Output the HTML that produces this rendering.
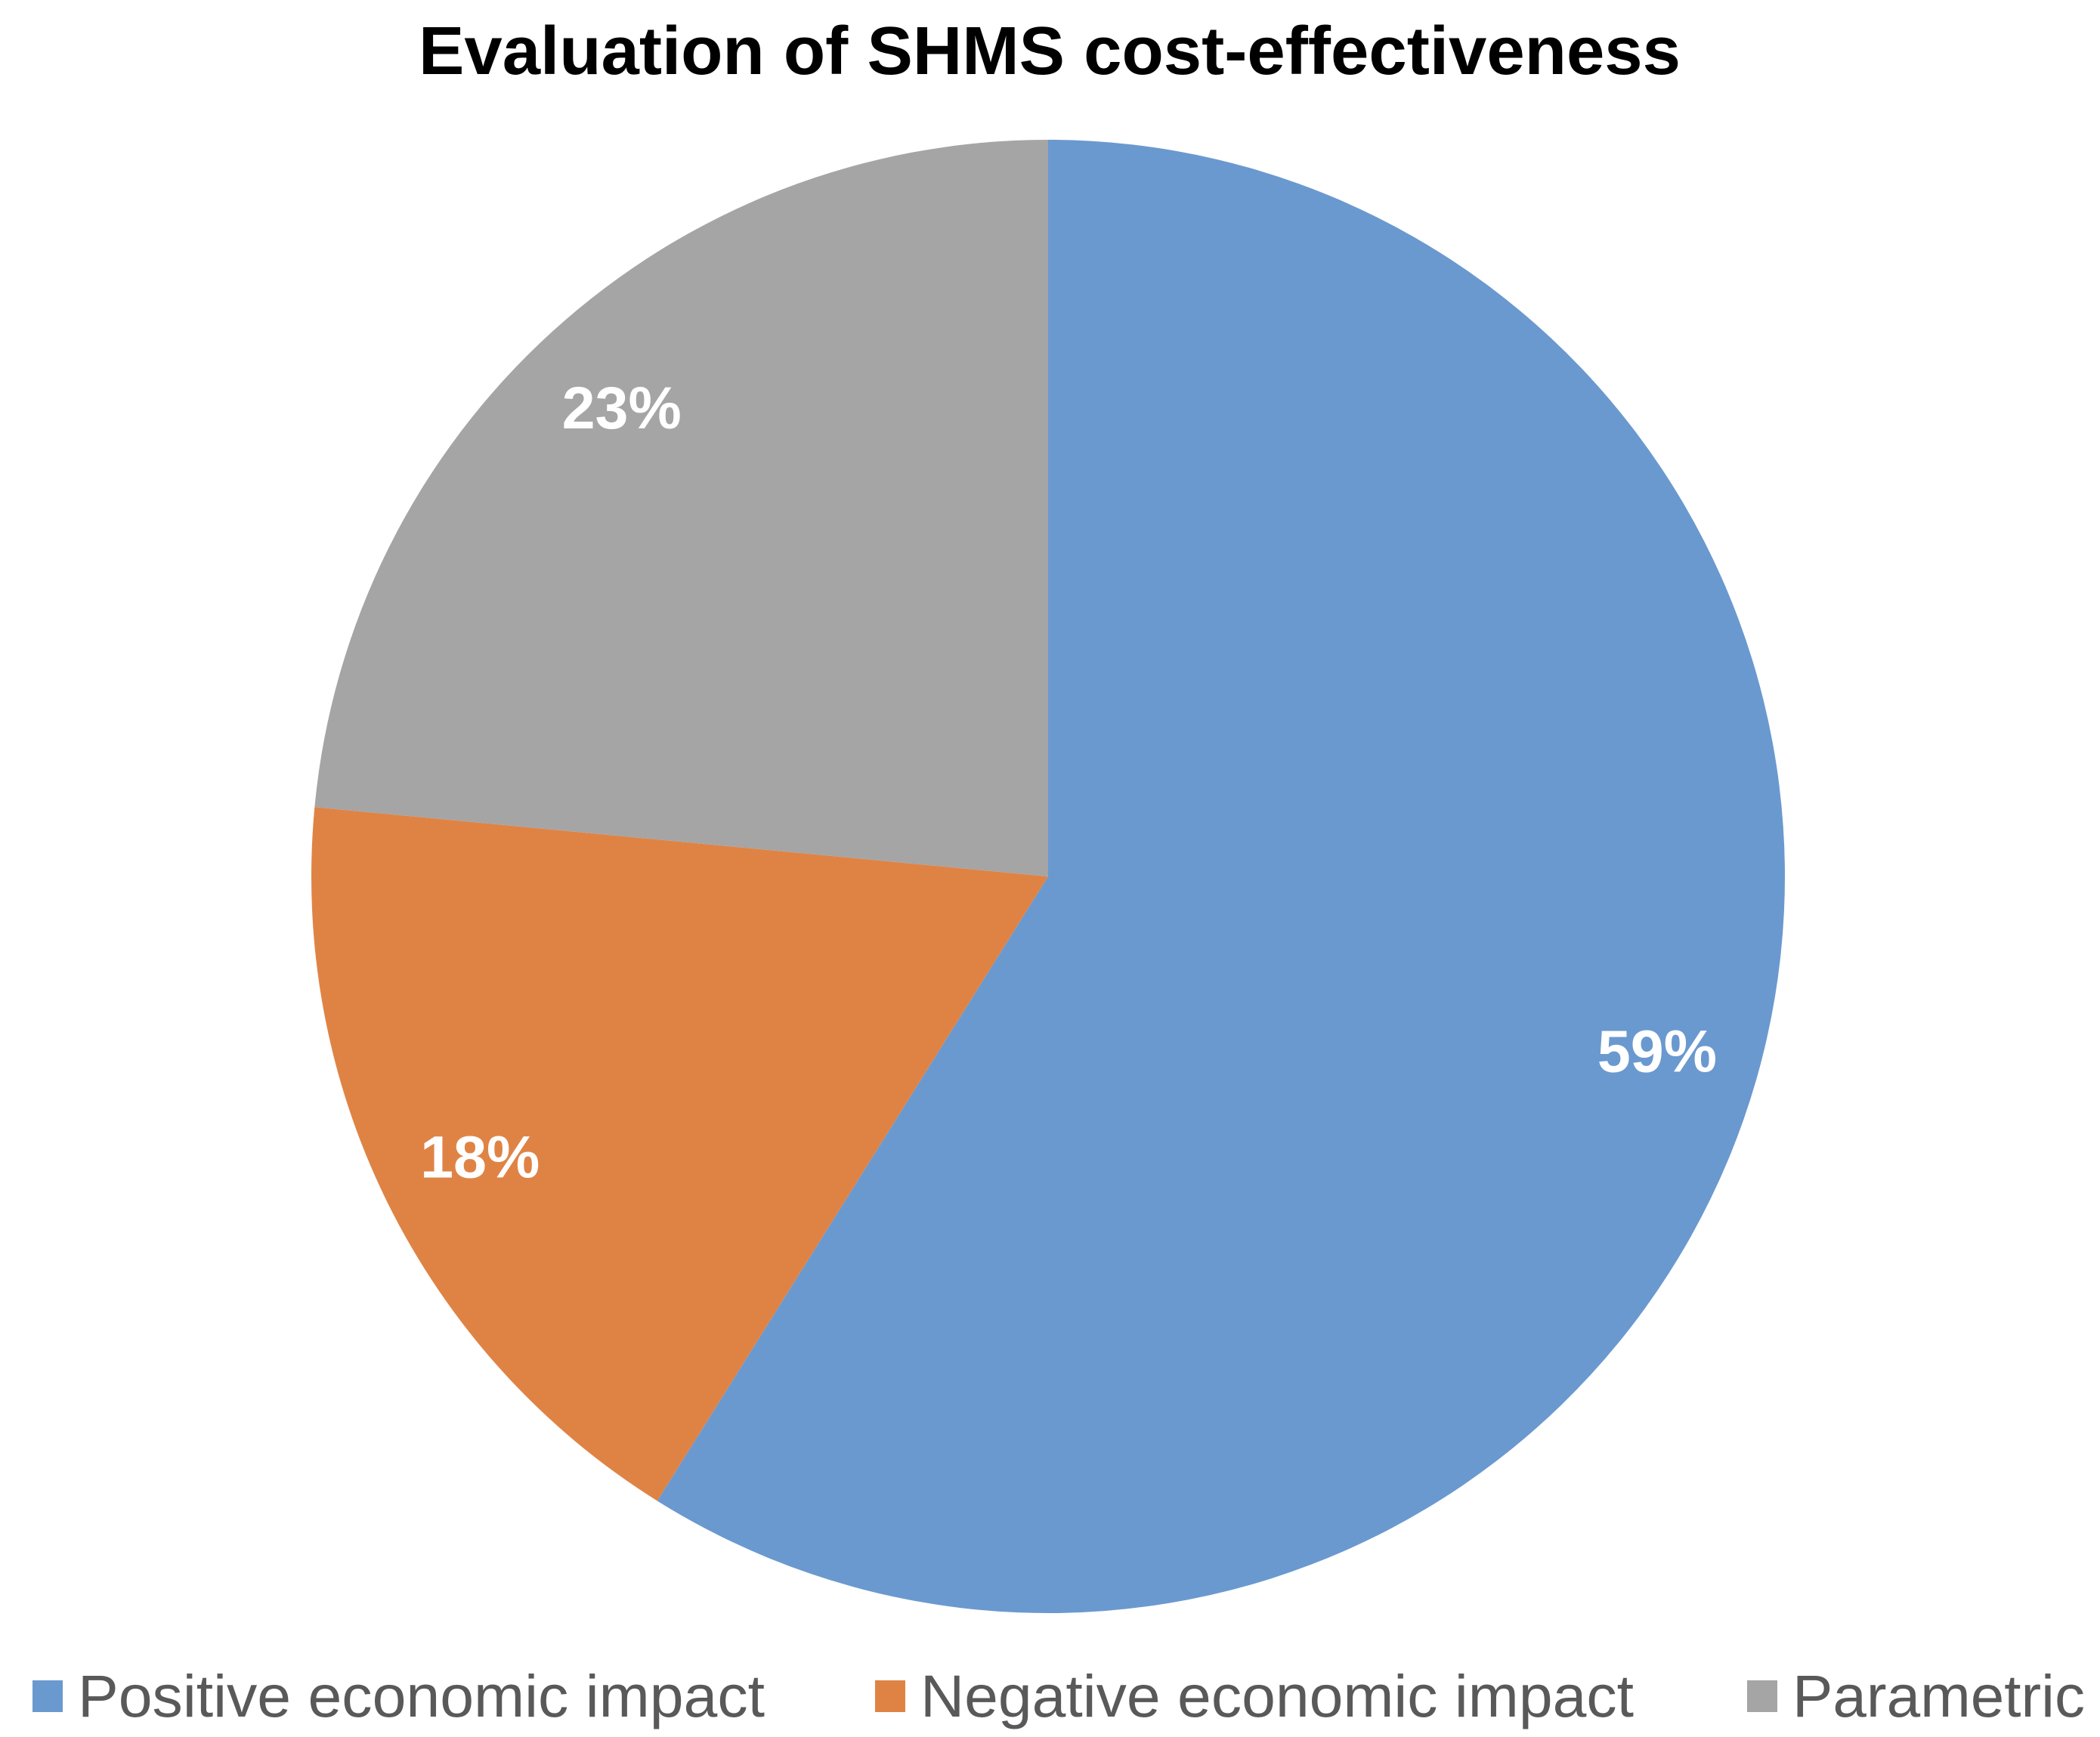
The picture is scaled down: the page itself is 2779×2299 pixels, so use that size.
<!DOCTYPE html>
<html><head><meta charset="utf-8"><style>
html,body{margin:0;padding:0;background:#fff;}
svg{display:block;}
</style></head><body>
<svg id="chart" width="2779" height="2299" viewBox="0 0 2779 2299" xmlns="http://www.w3.org/2000/svg">
<text x="1389" y="98" text-anchor="middle" font-family="Liberation Sans, sans-serif" font-weight="bold" font-size="90" fill="#000" textLength="1670" lengthAdjust="spacingAndGlyphs">Evaluation of SHMS cost-effectiveness</text>
<g id="slices"></g>
<g id="labels"></g>
<g id="legend"></g>
</svg>
<script>
const categories = ["Positive economic impact", "Negative economic impact", "Parametric"];
const values = [58.9, 17.6, 23.5];
const valueLabels = ["59%", "18%", "23%"];
const colors = ["#6A99CF", "#DF8345", "#A5A5A5"];

const NS = "http://www.w3.org/2000/svg";
const cx = 1387, cy = 1160, r = 975;
const total = values.reduce((a, b) => a + b, 0);
function pt(frac, rad) {
  const a = frac * 2 * Math.PI;
  return [cx + rad * Math.sin(a), cy - rad * Math.cos(a)];
}
const sg = document.getElementById('slices');
const lg = document.getElementById('labels');
let acc = 0;
values.forEach((v, i) => {
  const f0 = acc / total, f1 = (acc + v) / total;
  acc += v;
  const p0 = pt(f0, r), p1 = pt(f1, r);
  const large = (f1 - f0) > 0.5 ? 1 : 0;
  const path = document.createElementNS(NS, 'path');
  path.setAttribute('d', `M${cx},${cy} L${p0[0]},${p0[1]} A${r},${r} 0 ${large} 1 ${p1[0]},${p1[1]} Z`);
  path.setAttribute('fill', colors[i]);
  
  
  sg.appendChild(path);
  const lp = pt((f0 + f1) / 2, r * 0.86);
  const t = document.createElementNS(NS, 'text');
  t.setAttribute('x', lp[0]);
  t.setAttribute('y', lp[1] + 27);
  t.setAttribute('text-anchor', 'middle');
  t.setAttribute('font-family', 'Liberation Sans, sans-serif');
  t.setAttribute('font-weight', 'bold');
  t.setAttribute('font-size', '79');
  t.setAttribute('fill', '#fff');
  t.textContent = valueLabels[i];
  
  
  lg.appendChild(t);
});
const legend = document.getElementById('legend');
const legX = [43, 1158, 2312];
const legW = [909, 944, 387];
categories.forEach((c, i) => {
  const g = document.createElementNS(NS, 'g');
  
  
  const rc = document.createElementNS(NS, 'rect');
  rc.setAttribute('x', legX[i]); rc.setAttribute('y', 2224);
  rc.setAttribute('width', 40); rc.setAttribute('height', 42);
  rc.setAttribute('fill', colors[i]);
  
  
  g.appendChild(rc);
  const t = document.createElementNS(NS, 'text');
  t.setAttribute('x', legX[i] + 60); t.setAttribute('y', 2272);
  t.setAttribute('font-family', 'Liberation Sans, sans-serif');
  t.setAttribute('font-size', '79');
  t.setAttribute('fill', '#595959');
  t.setAttribute('textLength', legW[i]);
  t.setAttribute('lengthAdjust', 'spacingAndGlyphs');
  t.textContent = c;
  
  
  g.appendChild(t);
  legend.appendChild(g);
});
</script>
</body></html>
